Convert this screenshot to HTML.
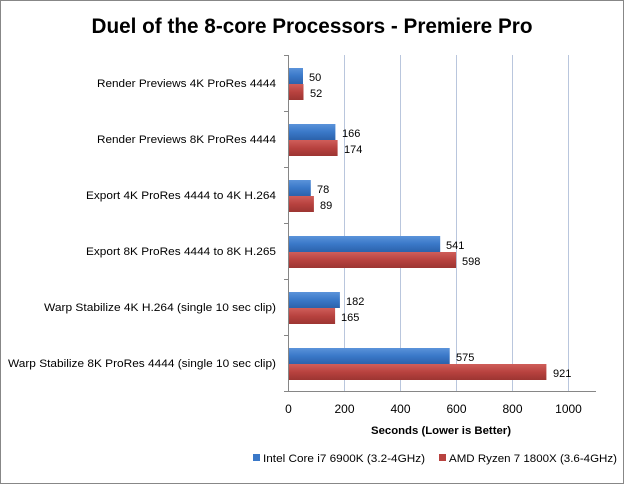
<!DOCTYPE html>
<html><head><style>
body{margin:0;background:#fff}
svg text{font-family:"Liberation Sans",sans-serif}
</style></head><body>
<svg width="625" height="485" xmlns="http://www.w3.org/2000/svg">
<defs>
<linearGradient id="b" x1="0" y1="0" x2="0" y2="1"><stop offset="0" stop-color="#5b93da"/><stop offset="0.5" stop-color="#3a78c8"/><stop offset="1" stop-color="#2c62ab"/></linearGradient>
<linearGradient id="r" x1="0" y1="0" x2="0" y2="1"><stop offset="0" stop-color="#cf5e5a"/><stop offset="0.5" stop-color="#b8423f"/><stop offset="1" stop-color="#9c3532"/></linearGradient>
</defs>
<rect x="0.5" y="0.5" width="623" height="483" fill="#fff" stroke="#878787"/>
<text x="312" y="33" text-anchor="middle" font-size="21" font-weight="bold" fill="#000" textLength="441" lengthAdjust="spacingAndGlyphs">Duel of the 8-core Processors - Premiere Pro</text>
<g stroke="#b9c6dd" stroke-width="1">
<line x1="344.5" y1="55" x2="344.5" y2="391"/>
<line x1="400.5" y1="55" x2="400.5" y2="391"/>
<line x1="456.5" y1="55" x2="456.5" y2="391"/>
<line x1="512.5" y1="55" x2="512.5" y2="391"/>
<line x1="568.5" y1="55" x2="568.5" y2="391"/>
</g>
<g stroke="#868686">
<line x1="288.5" y1="55" x2="288.5" y2="391"/>
<line x1="288" y1="391.5" x2="596" y2="391.5"/>
<line x1="284" y1="55.5" x2="288" y2="55.5"/>
<line x1="284" y1="111.5" x2="288" y2="111.5"/>
<line x1="284" y1="167.5" x2="288" y2="167.5"/>
<line x1="284" y1="223.5" x2="288" y2="223.5"/>
<line x1="284" y1="279.5" x2="288" y2="279.5"/>
<line x1="284" y1="335.5" x2="288" y2="335.5"/>
<line x1="284" y1="391.5" x2="288" y2="391.5"/>
</g>
<g font-size="11" fill="#000">
<text x="97" y="87" textLength="179" lengthAdjust="spacingAndGlyphs">Render Previews 4K ProRes 4444</text>
<text x="97" y="143" textLength="179" lengthAdjust="spacingAndGlyphs">Render Previews 8K ProRes 4444</text>
<text x="86" y="199" textLength="190" lengthAdjust="spacingAndGlyphs">Export 4K ProRes 4444 to 4K H.264</text>
<text x="86" y="255" textLength="190" lengthAdjust="spacingAndGlyphs">Export 8K ProRes 4444 to 8K H.265</text>
<text x="44" y="311" textLength="232" lengthAdjust="spacingAndGlyphs">Warp Stabilize 4K H.264 (single 10 sec clip)</text>
<text x="8" y="367" textLength="268" lengthAdjust="spacingAndGlyphs">Warp Stabilize 8K ProRes 4444 (single 10 sec clip)</text>
<rect x="289" y="68" width="14" height="16" fill="url(#b)"/><rect x="289" y="84" width="14.5" height="16" fill="url(#r)"/>
<text x="309" y="81">50</text><text x="310" y="97">52</text>
<rect x="289" y="124" width="46.4" height="16" fill="url(#b)"/><rect x="289" y="140" width="48.6" height="16" fill="url(#r)"/>
<text x="342" y="137">166</text><text x="344" y="153">174</text>
<rect x="289" y="180" width="21.8" height="16" fill="url(#b)"/><rect x="289" y="196" width="24.9" height="16" fill="url(#r)"/>
<text x="317" y="193">78</text><text x="320" y="209">89</text>
<rect x="289" y="236" width="151.2" height="16" fill="url(#b)"/><rect x="289" y="252" width="167.1" height="16" fill="url(#r)"/>
<text x="446" y="249">541</text><text x="462" y="265">598</text>
<rect x="289" y="292" width="50.9" height="16" fill="url(#b)"/><rect x="289" y="308" width="46.1" height="16" fill="url(#r)"/>
<text x="346" y="305">182</text><text x="341" y="321">165</text>
<rect x="289" y="348" width="160.7" height="16" fill="url(#b)"/><rect x="289" y="364" width="257.4" height="16" fill="url(#r)"/>
<text x="456" y="361">575</text><text x="553" y="377">921</text>
<g text-anchor="middle" font-size="12">
<text x="288.5" y="413">0</text><text x="344.5" y="413">200</text><text x="400.5" y="413">400</text>
<text x="456.5" y="413">600</text><text x="512.5" y="413">800</text><text x="568.5" y="413">1000</text>
</g>
<text x="371" y="434" font-weight="bold" textLength="140" lengthAdjust="spacingAndGlyphs">Seconds (Lower is Better)</text>
<rect x="253" y="454" width="7" height="7" fill="#3a78c8"/>
<text x="263" y="462" textLength="162" lengthAdjust="spacingAndGlyphs">Intel Core i7 6900K (3.2-4GHz)</text>
<rect x="439" y="454" width="7" height="7" fill="#b8423f"/>
<text x="449" y="462" textLength="168" lengthAdjust="spacingAndGlyphs">AMD Ryzen 7 1800X (3.6-4GHz)</text>
</g>
</svg>
</body></html>
